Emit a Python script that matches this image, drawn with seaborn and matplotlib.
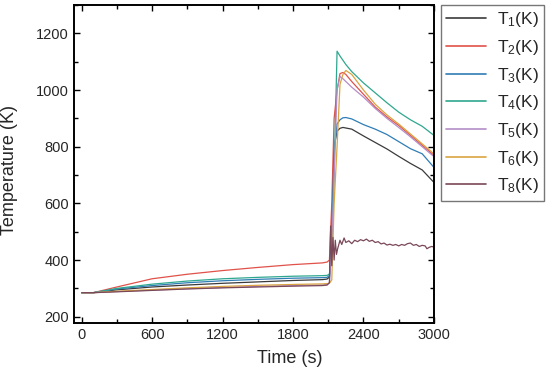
"""
Temperatura dos termopares ao longo do tempo (T1..T8).
"""

import pandas as pd
import matplotlib
matplotlib.use("Agg")
import matplotlib.pyplot as plt
from matplotlib.ticker import MultipleLocator
import seaborn as sns

# Eixo de tempo comum (s) para T1..T6
tempo = [0, 100, 300, 600, 900, 1200, 1500, 1800, 2050, 2090, 2110, 2130,
         2150, 2175, 2200, 2225, 2250, 2300, 2400, 2500, 2600, 2700, 2800,
         2900, 3000]

T1 = [285, 285, 295, 305, 312, 318, 323, 328, 331, 333, 340, 500,
      800, 855, 865, 868, 866, 862, 838, 815, 792, 766, 741,
      718, 674]
T2 = [285, 285, 305, 334, 350, 363, 374, 384, 390, 393, 400, 600,
      900, 1000, 1058, 1062, 1055, 1030, 985, 940, 905, 875, 840,
      805, 770]
T3 = [285, 285, 298, 310, 320, 327, 332, 336, 338, 339, 345, 500,
      780, 880, 895, 902, 903, 898, 878, 862, 843, 818, 793,
      775, 727]
T4 = [285, 285, 300, 315, 326, 334, 339, 343, 345, 346, 350, 420,
      700, 1137, 1120, 1105, 1090, 1065, 1025, 990, 955, 922, 895,
      872, 840]
T5 = [285, 285, 289, 294, 299, 303, 307, 310, 312, 313, 320, 450,
      700, 1000, 1048, 1040, 1030, 1010, 975, 935, 900, 868, 835,
      800, 765]
T6 = [285, 285, 290, 296, 302, 307, 311, 314, 316, 317, 318, 330,
      600, 800, 1020, 1055, 1069, 1055, 1000, 950, 912, 880, 845,
      810, 775]

# T8 tem oscilações depois do pico, por isso usa uma amostragem própria
tempo_t8 = [0, 100, 300, 600, 900, 1200, 1500, 1800, 2050, 2090, 2110, 2120,
            2130, 2140, 2150, 2160, 2170, 2180, 2200, 2215, 2235, 2250, 2275,
            2300, 2325, 2350, 2375, 2400, 2425, 2450, 2475, 2500, 2525, 2550,
            2575, 2600, 2625, 2650, 2675, 2700, 2725, 2750, 2775, 2800, 2825,
            2850, 2875, 2900, 2925, 2940, 2960, 2980, 3000]
T8 = [285, 285, 288, 293, 298, 302, 305, 308, 310, 312, 320, 520,
      380, 480, 400, 470, 420, 440, 470, 455, 478, 462, 468,
      458, 470, 465, 472, 468, 474, 466, 470, 462, 465, 457,
      460, 453, 456, 452, 455, 450, 455, 452, 458, 460, 452,
      455, 448, 452, 450, 440, 445, 448, 446]

rotulos = ["T$_1$(K)", "T$_2$(K)", "T$_3$(K)", "T$_4$(K)",
           "T$_5$(K)", "T$_6$(K)", "T$_8$(K)"]
cores = ["#3b3b3b", "#e0524a", "#2f7db5", "#2fa78f",
         "#b48cc8", "#d9a441", "#7a4858"]

sns.set_style("ticks")
plt.rcParams["font.family"] = ["Liberation Sans", "DejaVu Sans"]
plt.rcParams["mathtext.fontset"] = "custom"
plt.rcParams["mathtext.rm"] = "Liberation Sans"
plt.rcParams["mathtext.it"] = "Liberation Sans"
plt.rcParams["mathtext.default"] = "regular"

# Monta o DataFrame em formato longo
partes = []
for nome, serie in zip(rotulos[:6], [T1, T2, T3, T4, T5, T6]):
    partes.append(pd.DataFrame({"tempo": tempo, "temp": serie, "sensor": nome}))
partes.append(pd.DataFrame({"tempo": tempo_t8, "temp": T8, "sensor": rotulos[6]}))
df = pd.concat(partes, ignore_index=True)

fig = plt.figure(figsize=(5.5, 3.74), dpi=100)
ax = fig.add_axes([0.1345, 0.1364, 0.6545, 0.8502])

sns.lineplot(data=df, x="tempo", y="temp", hue="sensor", hue_order=rotulos,
             palette=dict(zip(rotulos, cores)), linewidth=0.9,
             estimator=None, sort=True, ax=ax)

ax.set_xlim(-65, 3000)
ax.set_ylim(178, 1300)
ax.xaxis.set_major_locator(MultipleLocator(600))
ax.xaxis.set_minor_locator(MultipleLocator(300))
ax.yaxis.set_major_locator(MultipleLocator(200))
ax.yaxis.set_minor_locator(MultipleLocator(100))
ax.tick_params(which="both", direction="in", top=True, right=True,
               labelsize=10.5, width=1.0, color="black")
ax.tick_params(which="major", length=4.5)
ax.tick_params(which="minor", length=3)
for lado in ax.spines.values():
    lado.set_linewidth(1.4)
    lado.set_color("black")

ax.set_xlabel("Time (s)", fontsize=13)
ax.set_ylabel("Temperature (K)", fontsize=13)
ax.xaxis.set_label_coords(0.6, -0.085)
ax.yaxis.set_label_coords(-0.155, 0.48)

leg = ax.legend(loc="upper left", bbox_to_anchor=(1.02, 1.0), fontsize=12.5,
                frameon=True, fancybox=False, handlelength=2.3,
                labelspacing=0.5, borderpad=0.3, handletextpad=0.6,
                borderaxespad=0)
leg.get_frame().set_edgecolor("#555555")
leg.get_frame().set_linewidth(1.0)
for linha in leg.get_lines():
    linha.set_linewidth(1.2)

fig.savefig("out.png", dpi=100)
